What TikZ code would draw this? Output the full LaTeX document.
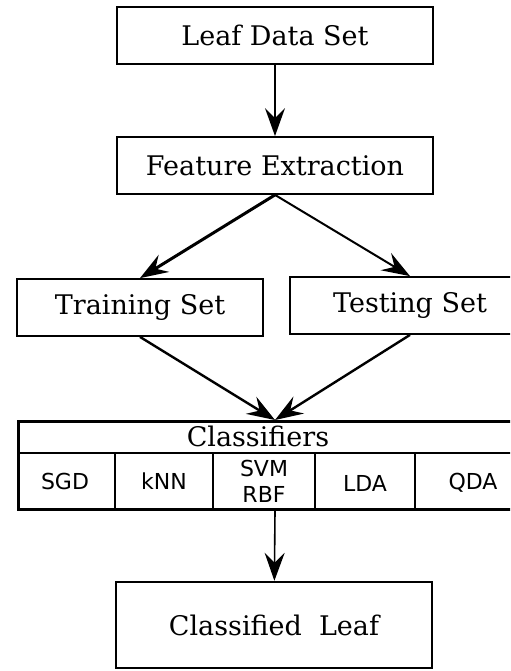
\documentclass[tikz,border=0pt]{standalone}
\usepackage{fontspec}
\setmainfont{DejaVu Serif}
\newfontfamily\cellfont{DejaVu Sans}
\usetikzlibrary{arrows.meta, positioning}

\begin{document}
\begin{tikzpicture}[
      x=0.5pt, y=-0.5pt,
      box/.style={rectangle, draw, line width=0.9pt, minimum width=158pt, minimum height=28.5pt, font=\fontsize{13.5}{16}\selectfont},
      cell/.style={align=center, font=\cellfont\fontsize{11}{13}\selectfont},
      flow/.style={-{Stealth[length=14pt, width=10pt, inset=5pt]}, line width=0.8pt}
    ]
      \useasboundingbox (0,0) rectangle (510,671);
      \clip (0,0) rectangle (510,671);

      \node[box] (data) at (275,35.5) {Leaf Data Set};
      \node[box] (feat) at (275,165.5) {Feature Extraction};
      \node[box, minimum width=123pt] (train) at (140,307.5) {Training Set};
      \node[box, minimum width=120pt] (test) at (410,305.5) {Testing Set};

      % classifier table
      \node[rectangle, draw, line width=1.5pt, minimum width=256.5pt, minimum height=44pt, anchor=north west] (cls) at (17,420) {};
      \node[font=\fontsize{13.5}{16}\selectfont] (head) at (258,436.5) {Classifiers};
      \draw[line width=0.75pt] (17,453) -- (530,453);
      \foreach \x in {115,213,315,415}
        \draw[line width=0.75pt] (\x,453) -- (\x,508);
      \foreach \x/\y/\t/\n in {65/481/SGD/sgd, 164/481/kNN/knn, 264/481/{SVM\\RBF}/svm, 365/483/LDA/lda, 473/483/QDA/qda}
        \node[cell] (\n) at (\x,\y) {\t};

      \node[box, line width=1.2pt, minimum height=43pt] (leaf) at (274,625) {Classified\ \ Leaf};

      \draw[flow] (data) -- (feat);
      \draw[flow, line width=1.5pt] (feat.south) -- (train.north);
      \draw[flow, line width=1pt] (feat.south) -- (test.north);
      \draw[flow, line width=1.2pt] (train.south) -- (cls.north -| feat);
      \draw[flow, line width=1.2pt] (test.south) -- (cls.north -| feat);
      \draw[flow] (cls.south -| feat) -- (leaf);
    \end{tikzpicture}
\end{document}
